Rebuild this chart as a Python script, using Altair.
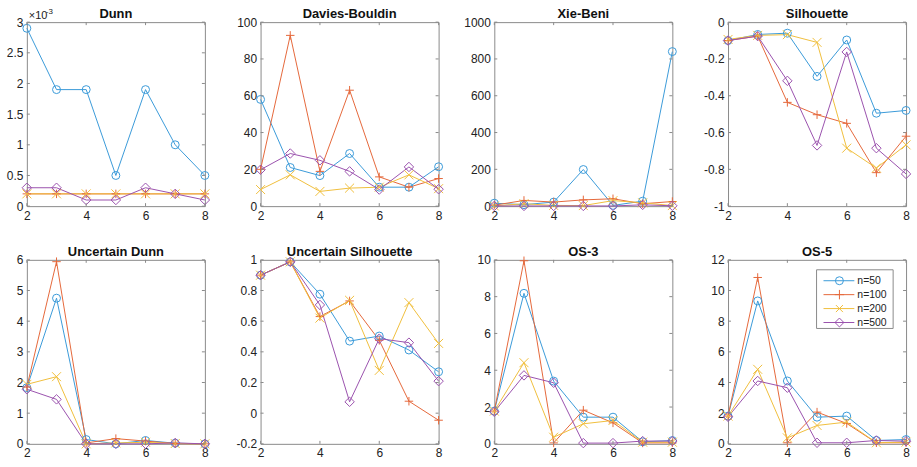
import altair as alt
import pandas as pd

# ---------------- data ----------------
K = [2, 3, 4, 5, 6, 7, 8]
SERIES = ["n=50", "n=100", "n=200", "n=500"]
COLORS = ["#3A9AD9", "#E5683A", "#F0BE3C", "#9A52AD"]
SHAPES = ["circle", "M-1,0L1,0M0,-1L0,1", "M-1,-1L1,1M-1,1L1,-1", "diamond"]
SIZES = [64, 90, 50, 80]

dunn_50 = [2.9e-3, 1.9e-3, 1.9e-3, 0.5e-3, 1.9e-3, 1.0e-3, 0.5e-3]
dunn_100 = [0.2e-3, 0.2e-3, 0.2e-3, 0.2e-3, 0.2e-3, 0.2e-3, 0.2e-3]
dunn_200 = [0.2e-3, 0.2e-3, 0.2e-3, 0.2e-3, 0.2e-3, 0.2e-3, 0.2e-3]
dunn_500 = [0.3e-3, 0.3e-3, 0.1e-3, 0.1e-3, 0.3e-3, 0.2e-3, 0.1e-3]

db_50 = [58, 21, 16.6, 28.6, 10.3, 10.3, 21.4]
db_100 = [20, 92.8, 18.9, 63, 15.9, 10.3, 15]
db_200 = [9, 17, 8, 9.8, 10.3, 17, 9.5]
db_500 = [19.8, 28.6, 24.9, 18.9, 9, 21.3, 9.2]

xb_50 = [16, 8, 22, 199, 4, 27, 840]
xb_100 = [5, 31, 22, 34, 40, 13, 25]
xb_200 = [1, 13, 4, 3, 30, 18, 3]
xb_500 = [1, 1, 1, 1, 1, 7, 2]

sil_50 = [-0.10, -0.067, -0.06, -0.295, -0.097, -0.495, -0.48]
sil_100 = [-0.10, -0.076, -0.436, -0.503, -0.55, -0.818, -0.62]
sil_200 = [-0.094, -0.072, -0.068, -0.11, -0.685, -0.793, -0.667]
sil_500 = [-0.10, -0.076, -0.319, -0.67, -0.162, -0.685, -0.825]

ud_50 = [1.83, 4.75, 0.14, 0.0, 0.11, 0.02, 0.0]
ud_100 = [1.85, 5.94, 0.03, 0.17, 0.09, 0.01, 0.0]
ud_200 = [1.94, 2.19, 0.0, 0.03, 0.05, 0.01, 0.0]
ud_500 = [1.78, 1.45, 0.0, 0.0, 0.0, 0.03, 0.0]

us_50 = [0.90, 0.987, 0.776, 0.47, 0.503, 0.412, 0.27]
us_100 = [0.90, 0.987, 0.63, 0.732, 0.475, 0.078, -0.046]
us_200 = [0.90, 0.987, 0.62, 0.736, 0.279, 0.721, 0.455]
us_500 = [0.90, 0.987, 0.706, 0.074, 0.486, 0.46, 0.209]

os3_50 = [1.78, 8.18, 3.41, 1.45, 1.45, 0.11, 0.18]
os3_100 = [1.78, 9.95, 0.05, 1.83, 1.14, 0.05, 0.05]
os3_200 = [1.78, 4.41, 0.36, 1.09, 1.27, 0.09, 0.09]
os3_500 = [1.74, 3.72, 3.32, 0.04, 0.04, 0.15, 0.15]

os5_50 = [1.81, 9.32, 4.10, 1.74, 1.81, 0.22, 0.28]
os5_100 = [1.81, 10.85, 0.07, 2.07, 1.33, 0.07, 0.07]
os5_200 = [1.81, 4.86, 0.39, 1.20, 1.42, 0.07, 0.11]
os5_500 = [1.76, 4.10, 3.66, 0.07, 0.07, 0.22, 0.17]

X_TICKS = [2, 4, 6, 8]

PANELS = [
    ("Dunn", [dunn_50, dunn_100, dunn_200, dunn_500], [0, 3], [0, 0.5, 1, 1.5, 2, 2.5, 3], 1000),
    ("Davies-Bouldin", [db_50, db_100, db_200, db_500], [0, 100], [0, 20, 40, 60, 80, 100], 1),
    ("Xie-Beni", [xb_50, xb_100, xb_200, xb_500], [0, 1000], [0, 200, 400, 600, 800, 1000], 1),
    ("Silhouette", [sil_50, sil_100, sil_200, sil_500], [-1, 0], [-1, -0.8, -0.6, -0.4, -0.2, 0], 1),
    ("Uncertain Dunn", [ud_50, ud_100, ud_200, ud_500], [0, 6], [0, 1, 2, 3, 4, 5, 6], 1),
    ("Uncertain Silhouette", [us_50, us_100, us_200, us_500], [-0.2, 1], [-0.2, 0, 0.2, 0.4, 0.6, 0.8, 1], 1),
    ("OS-3", [os3_50, os3_100, os3_200, os3_500], [0, 10], [0, 2, 4, 6, 8, 10], 1),
    ("OS-5", [os5_50, os5_100, os5_200, os5_500], [0, 12], [0, 2, 4, 6, 8, 10, 12], 1),
]

# ---------------- style ----------------
W, H = 179, 185
FRAME = "#8a8a8a"
FONT = "Liberation Sans"

color_scale = alt.Scale(domain=SERIES, range=COLORS)
shape_scale = alt.Scale(domain=SERIES, range=SHAPES)
size_scale = alt.Scale(domain=SERIES, range=SIZES)
label_expr = "replace(datum.label, '\u2212', '-')"


def make_panel(title, lists, domain, yticks, mult, legend=False, exponent=False):
    rows = []
    for s, vals in zip(SERIES, lists):
        for k, v in zip(K, vals):
            rows.append({"k": k, "series": s, "v": v * mult})
    df = pd.DataFrame(rows)

    xs = alt.Scale(domain=[2, 8], nice=False, zero=False)
    ys = alt.Scale(domain=domain, nice=False, zero=False)
    x = alt.X("k:Q", scale=xs, axis=alt.Axis(values=X_TICKS, format="~r", title=None))
    y = alt.Y("v:Q", scale=ys,
              axis=alt.Axis(values=yticks, format="~r", labelExpr=label_expr, title=None))

    base = alt.Chart(df)
    lines = base.mark_line(strokeWidth=1).encode(
        x=x, y=y,
        color=alt.Color("series:N", scale=color_scale, legend=None, sort=SERIES),
        detail="series:N",
    )
    pts = base.mark_point(filled=False, strokeWidth=1, opacity=1).encode(
        x=x, y=y,
        color=alt.Color("series:N", scale=color_scale, legend=None, sort=SERIES),
        shape=alt.Shape("series:N", scale=shape_scale, legend=None),
        size=alt.Size("series:N", scale=size_scale, legend=None),
    )

    xt = pd.DataFrame({"k": X_TICKS})
    yt = pd.DataFrame({"v": yticks})
    ticks = [
        alt.Chart(xt).mark_rule(color=FRAME, strokeWidth=1).encode(x=x, y=alt.value(H), y2=alt.value(H - 3)),
        alt.Chart(xt).mark_rule(color=FRAME, strokeWidth=1).encode(x=x, y=alt.value(0), y2=alt.value(3)),
        alt.Chart(yt).mark_rule(color=FRAME, strokeWidth=1).encode(y=y, x=alt.value(0), x2=alt.value(3)),
        alt.Chart(yt).mark_rule(color=FRAME, strokeWidth=1).encode(y=y, x=alt.value(W - 3), x2=alt.value(W)),
    ]
    layers = [lines, pts] + ticks

    one = pd.DataFrame({"a": [0]})
    # panel title
    layers.append(alt.Chart(one).mark_text(align="center", baseline="alphabetic", fontSize=13,
                                           fontWeight="bold", font=FONT, color="#111111")
                  .encode(x=alt.value(W / 2), y=alt.value(-4), text=alt.value(title)))

    if exponent:
        layers.append(alt.Chart(one).mark_text(align="left", baseline="alphabetic", fontSize=11,
                                               font=FONT, color="#222222")
                      .encode(x=alt.value(2), y=alt.value(-3), text=alt.value("\u00d710")))
        layers.append(alt.Chart(one).mark_text(align="left", baseline="alphabetic", fontSize=8,
                                               font=FONT, color="#222222")
                      .encode(x=alt.value(19), y=alt.value(-8), text=alt.value("-3")))

    if legend:
        layers.append(alt.Chart(one).mark_rect(fill="white", stroke=FRAME, strokeWidth=1)
                      .encode(x=alt.value(89), x2=alt.value(166), y=alt.value(10), y2=alt.value(69)))
        for i, (s, c, sh, sz) in enumerate(zip(SERIES, COLORS, SHAPES, SIZES)):
            yy = 21 + 14 * i
            layers.append(alt.Chart(one).mark_rule(color=c, strokeWidth=1)
                          .encode(x=alt.value(96), x2=alt.value(127), y=alt.value(yy)))
            layers.append(alt.Chart(one).mark_point(filled=False, color=c, shape=sh, size=sz, strokeWidth=1, opacity=1)
                          .encode(x=alt.value(112), y=alt.value(yy)))
            layers.append(alt.Chart(one).mark_text(align="left", baseline="middle", fontSize=10.5,
                                                   font=FONT, color="#222222")
                          .encode(x=alt.value(130), y=alt.value(yy + 0.5), text=alt.value(s)))

    return alt.layer(*layers).properties(width=W, height=H)


panels = []
for i, (t, lists, dom, yt, m) in enumerate(PANELS):
    panels.append(make_panel(t, lists, dom, yt, m, legend=(t == "OS-5"), exponent=(t == "Dunn")))

chart = alt.concat(*panels, columns=4, spacing={"row": 54, "column": 56}, bounds="flush").properties(
    padding={"left": 5, "top": 6, "right": 3, "bottom": 1},
    background="white",
).configure_view(
    stroke=FRAME, strokeWidth=1
).configure_axis(
    domain=False, ticks=False, grid=False,
    labelFont=FONT, labelFontSize=12, labelColor="#222222",
    labelPadding=4, labelFlush=False, labelOverlap=False,
)

chart.save("out.html", embed_options={"renderer": "svg", "actions": False})
